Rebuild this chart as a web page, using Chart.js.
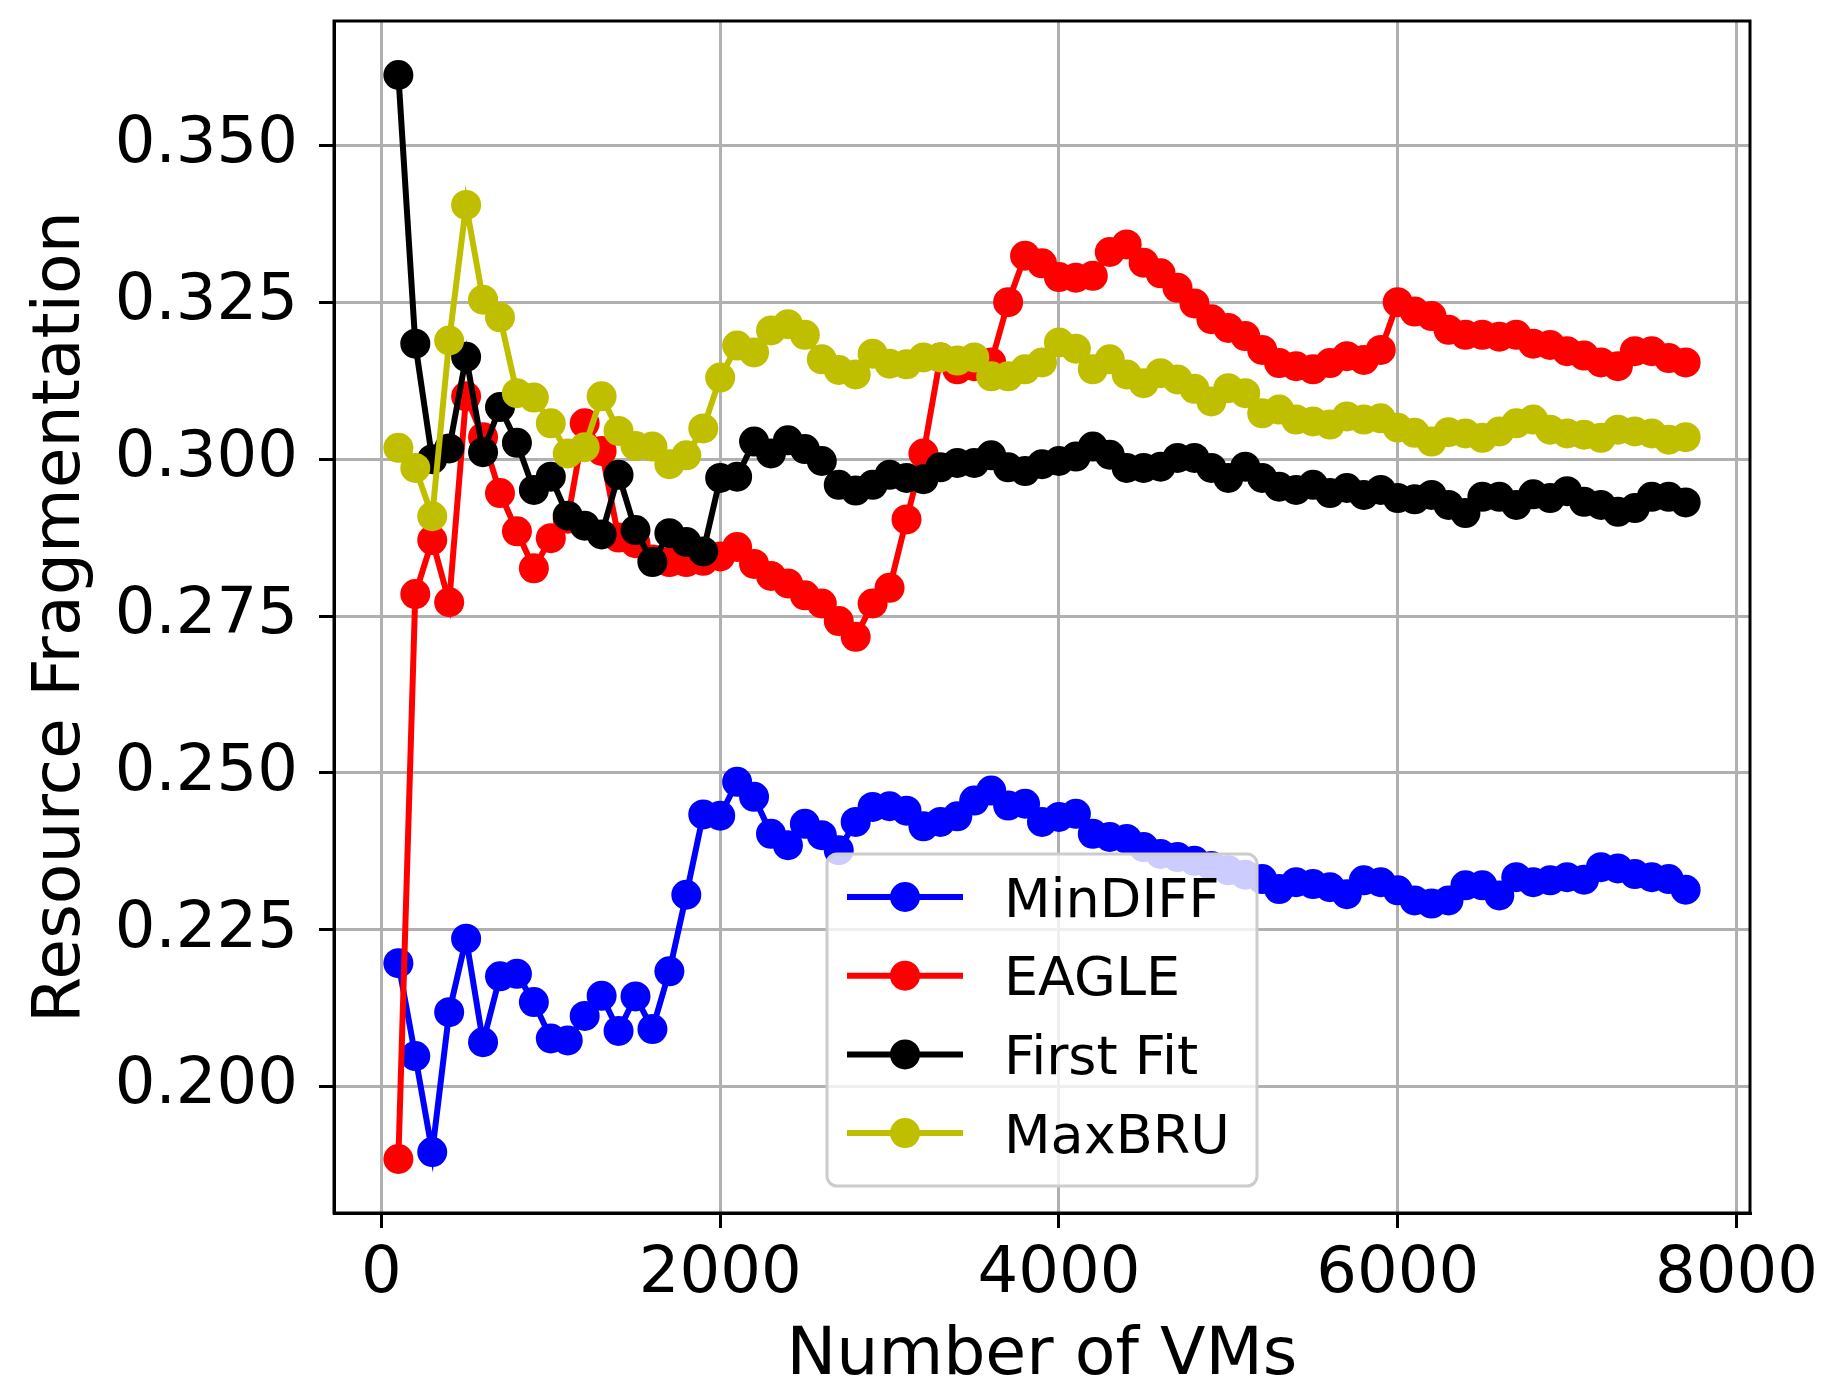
<!DOCTYPE html>
<html lang="en">
<head>
  <meta charset="UTF-8" />
  <title>Resource Fragmentation</title>
  <script src="https://cdn.jsdelivr.net/npm/chart.js"></script>
  <style>
    body { margin: 0; background: #fff; }
    canvas { display: block; }
  </style>
</head>
<body>
  <canvas id="fragChart" width="1829" height="1383"></canvas>

  <script>
    // x positions: number of VMs
    const vms = [];
    for (let n = 100; n <= 7700; n += 100) vms.push(n);

    const minDiff = [
      0.2197, 0.2049, 0.1896, 0.2119, 0.2236, 0.2071, 0.2176, 0.2180, 0.2135, 0.2077,
      0.2074, 0.2113, 0.2145, 0.2089, 0.2144, 0.2092, 0.2184, 0.2306, 0.2434, 0.2432,
      0.2486, 0.2462, 0.2403, 0.2385, 0.2419, 0.2401, 0.2377, 0.2422, 0.2446, 0.2447,
      0.2440, 0.2415, 0.2422, 0.2431, 0.2456, 0.2472, 0.2448, 0.2451, 0.2422, 0.2430,
      0.2435, 0.2403, 0.2398, 0.2395, 0.2382, 0.2371, 0.2366, 0.2360, 0.2352, 0.2345,
      0.2338, 0.2331, 0.2315, 0.2326, 0.2323, 0.2318, 0.2307, 0.2329, 0.2326, 0.2313,
      0.2297, 0.2292, 0.2297, 0.2321, 0.2321, 0.2305, 0.2334, 0.2326, 0.2329, 0.2334,
      0.2330, 0.2350, 0.2348, 0.2339, 0.2334, 0.2331, 0.2314
    ];
    const eagle = [
      0.1885, 0.2785, 0.2871, 0.2772, 0.3100, 0.3035, 0.2946, 0.2885, 0.2826, 0.2874,
      0.2905, 0.3057, 0.3013, 0.2875, 0.2866, 0.2840, 0.2836, 0.2836, 0.2838, 0.2845,
      0.2860, 0.2833, 0.2814, 0.2802, 0.2783, 0.2770, 0.2742, 0.2717, 0.2770, 0.2795,
      0.2904, 0.3009, 0.3162, 0.3143, 0.3148, 0.3154, 0.3250, 0.3324, 0.3312, 0.3290,
      0.3289, 0.3292, 0.3330, 0.3342, 0.3313, 0.3296, 0.3273, 0.3248, 0.3223, 0.3209,
      0.3196, 0.3174, 0.3153, 0.3148, 0.3143, 0.3153, 0.3164, 0.3158, 0.3174, 0.3250,
      0.3235, 0.3228, 0.3206, 0.3198, 0.3198, 0.3195, 0.3198, 0.3184, 0.3182, 0.3172,
      0.3165, 0.3154, 0.3148, 0.3172, 0.3172, 0.3161, 0.3154
    ];
    const firstFit = [
      0.3612, 0.3184, 0.3000, 0.3017, 0.3163, 0.3011, 0.3083, 0.3026, 0.2951, 0.2972,
      0.2910, 0.2894, 0.2880, 0.2975, 0.2887, 0.2836, 0.2882, 0.2868, 0.2853, 0.2970,
      0.2972, 0.3028, 0.3009, 0.3030, 0.3016, 0.2997, 0.2959, 0.2950, 0.2959, 0.2975,
      0.2970, 0.2968, 0.2987, 0.2994, 0.2994, 0.3006, 0.2987, 0.2981, 0.2992, 0.2997,
      0.3004, 0.3020, 0.3007, 0.2986, 0.2986, 0.2988, 0.3002, 0.3002, 0.2986, 0.2970,
      0.2988, 0.2970, 0.2956, 0.2951, 0.2959, 0.2946, 0.2954, 0.2943, 0.2951, 0.2938,
      0.2936, 0.2943, 0.2927, 0.2914, 0.2940, 0.2940, 0.2927, 0.2944, 0.2938, 0.2949,
      0.2932, 0.2927, 0.2916, 0.2922, 0.2940, 0.2940, 0.2931
    ];
    const maxBru = [
      0.3018, 0.2986, 0.2909, 0.3189, 0.3405, 0.3254, 0.3226, 0.3105, 0.3098, 0.3057,
      0.3009, 0.3019, 0.3100, 0.3045, 0.3021, 0.3020, 0.2992, 0.3006, 0.3049, 0.3130,
      0.3181, 0.3170, 0.3205, 0.3215, 0.3198, 0.3159, 0.3142, 0.3135, 0.3168, 0.3152,
      0.3151, 0.3162, 0.3162, 0.3157, 0.3162, 0.3132, 0.3132, 0.3143, 0.3154, 0.3186,
      0.3176, 0.3143, 0.3159, 0.3135, 0.3121, 0.3137, 0.3127, 0.3112, 0.3092, 0.3113,
      0.3105, 0.3073, 0.3079, 0.3063, 0.3060, 0.3055, 0.3068, 0.3063, 0.3065, 0.3050,
      0.3042, 0.3028, 0.3043, 0.3041, 0.3034, 0.3044, 0.3057, 0.3063, 0.3047, 0.3041,
      0.3039, 0.3034, 0.3047, 0.3044, 0.3041, 0.3031, 0.3035
    ];

    const xTicks = [0, 2000, 4000, 6000, 8000];
    const yTicks = [0.200, 0.225, 0.250, 0.275, 0.300, 0.325, 0.350];

    const FONT = '"DejaVu Sans", sans-serif';

    function series(label, values, color, order) {
      return {
        label,
        data: values.map((v, i) => ({ x: vms[i], y: v })),
        borderColor: color,
        backgroundColor: color,
        pointBackgroundColor: color,
        pointBorderWidth: 0,
        pointRadius: 15,
        borderWidth: 6,
        order
      };
    }

    function noEdgePadding(s) {
      s.paddingTop = 0;
      s.paddingBottom = 0;
      s.paddingLeft = 0;
      s.paddingRight = 0;
    }

    // frame around the plot + legend box inside it
    const framePlugin = {
      id: 'frame',
      afterDatasetsDraw(chart) {
        const { ctx, chartArea: a } = chart;
        ctx.save();
        ctx.strokeStyle = '#000';
        ctx.lineWidth = 3;
        ctx.strokeRect(a.left, a.top, a.right - a.left, a.bottom - a.top);
        ctx.restore();
      },
      afterDraw(chart) {
        const ctx = chart.ctx;
        const box = { x: 827, y: 854, w: 430, h: 332, r: 10 };
        ctx.save();
        ctx.beginPath();
        ctx.roundRect(box.x, box.y, box.w, box.h, box.r);
        ctx.fillStyle = 'rgba(255,255,255,0.8)';
        ctx.fill();
        ctx.strokeStyle = '#cccccc';
        ctx.lineWidth = 3;
        ctx.stroke();

        const legendOrder = ['MinDIFF', 'EAGLE', 'First Fit', 'MaxBRU'];
        legendOrder.forEach((name, i) => {
          const ds = chart.data.datasets.find(d => d.label === name);
          const cy = 897 + i * 78.7;
          ctx.strokeStyle = ds.borderColor;
          ctx.lineWidth = 6;
          ctx.beginPath();
          ctx.moveTo(847, cy);
          ctx.lineTo(963, cy);
          ctx.stroke();
          ctx.fillStyle = ds.borderColor;
          ctx.beginPath();
          ctx.arc(905, cy, 15, 0, Math.PI * 2);
          ctx.fill();
          ctx.fillStyle = '#000';
          ctx.font = '54px ' + FONT;
          ctx.textAlign = 'left';
          ctx.textBaseline = 'alphabetic';
          ctx.fillText(name, 1004, cy + 19.7);
        });
        ctx.restore();
      }
    };

    new Chart(document.getElementById('fragChart').getContext('2d'), {
      type: 'line',
      data: {
        datasets: [
          series('MinDIFF', minDiff, '#0000ff', 4),
          series('EAGLE', eagle, '#ff0000', 3),
          series('First Fit', firstFit, '#000000', 2),
          series('MaxBRU', maxBru, '#bfbf00', 1)
        ]
      },
      options: {
        responsive: false,
        devicePixelRatio: 1,
        animation: false,
        layout: { padding: { top: 21, right: 79, left: 0, bottom: 0 } },
        plugins: {
          legend: { display: false },
          tooltip: { enabled: false }
        },
        scales: {
          x: {
            type: 'linear',
            min: -280,
            max: 8080,
            afterBuildTicks: s => { s.ticks = xTicks.map(v => ({ value: v })); },
            afterFit: s => { s.height = 170; noEdgePadding(s); },
            grid: { color: '#b0b0b0', lineWidth: 3, tickColor: '#000', tickLength: 15, tickWidth: 3 },
            border: { display: true, color: '#000', width: 3 },
            ticks: {
              color: '#000',
              font: { family: FONT, size: 64 },
              padding: 9,
              maxRotation: 0,
              callback: v => String(v)
            },
            title: {
              display: true,
              text: 'Number of VMs',
              color: '#000',
              font: { family: FONT, size: 66.5, lineHeight: 0.8 },
              padding: { top: 0, bottom: 0 }
            }
          },
          y: {
            type: 'linear',
            min: 0.1799,
            max: 0.3698,
            afterBuildTicks: s => { s.ticks = yTicks.map(v => ({ value: v })); },
            afterFit: s => { s.width = 334; noEdgePadding(s); },
            grid: { color: '#b0b0b0', lineWidth: 3, tickColor: '#000', tickLength: 15, tickWidth: 3 },
            border: { display: true, color: '#000', width: 3 },
            ticks: {
              color: '#000',
              font: { family: FONT, size: 64 },
              padding: 21,
              callback: v => v.toFixed(3)
            },
            title: {
              display: true,
              text: 'Resource Fragmentation',
              color: '#000',
              font: { family: FONT, size: 66.5, lineHeight: 1 },
              padding: { top: 28, bottom: 0 }
            }
          }
        }
      },
      plugins: [framePlugin]
    });
  </script>
</body>
</html>
